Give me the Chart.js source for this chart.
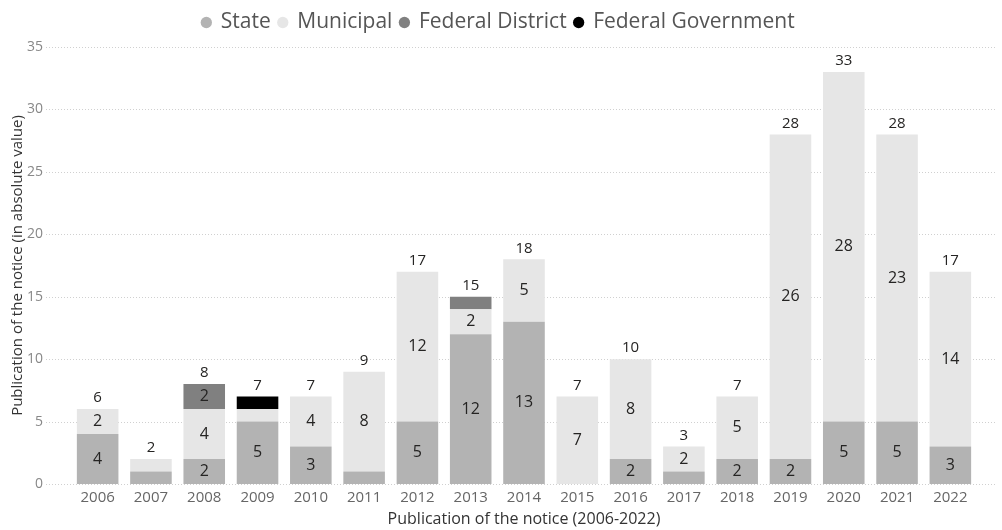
<!DOCTYPE html>
<html>
<head>
<meta charset="utf-8">
<script src="https://cdn.jsdelivr.net/npm/chart.js@4"></script>
<style>
  html, body { margin: 0; padding: 0; background: #fff; }
  #wrap { width: 1002px; height: 530px; }
</style>
</head>
<body>
<div id="wrap"><canvas id="chart" width="1002" height="530"></canvas></div>
<script>
const years = ["2006", "2007", "2008", "2009", "2010", "2011", "2012", "2013", "2014",
  "2015", "2016", "2017", "2018", "2019", "2020", "2021", "2022"];
const stateValues = [4, 1, 2, 5, 3, 1, 5, 12, 13, 0, 2, 1, 2, 2, 5, 5, 3];
const municipalValues = [2, 1, 4, 1, 4, 8, 12, 2, 5, 7, 8, 2, 5, 26, 28, 23, 14];
const federalDistrictValues = [0, 0, 2, 0, 0, 0, 0, 1, 0, 0, 0, 0, 0, 0, 0, 0, 0];
const federalGovValues = [0, 0, 0, 1, 0, 0, 0, 0, 0, 0, 0, 0, 0, 0, 0, 0, 0];
const yTicks = [0, 5, 10, 15, 20, 25, 30, 35];

const FONT = "'Open Sans', 'Noto Sans', sans-serif";

// dotted horizontal grid, wider than the bar area like the original
const gridPlugin = {
  id: "dottedGrid",
  afterLayout(chart) {
    // legend is centred on the whole page, not on the padded area
    if (chart.legend) {
      chart.legend.left += 10;
      chart.legend.right += 10;
      chart.legend.top -= 4;
      chart.legend.bottom -= 4;
    }
  },
  beforeDatasetsDraw(chart) {
    const { ctx, scales } = chart;
    ctx.save();
    ctx.strokeStyle = "#d0d0d0";
    ctx.lineWidth = 1;
    ctx.setLineDash([1, 2]);
    yTicks.forEach((t) => {
      const y = Math.round(scales.y.getPixelForValue(t)) + 0.5;
      ctx.beginPath();
      ctx.moveTo(46, y);
      ctx.lineTo(995, y);
      ctx.stroke();
    });
    ctx.restore();
  },
};

// segment labels and totals above each stack
const labelPlugin = {
  id: "barLabels",
  afterDatasetsDraw(chart) {
    const { ctx } = chart;
    ctx.save();
    ctx.fillStyle = "#252423";
    ctx.textAlign = "center";
    ctx.textBaseline = "middle";
    ctx.font = `16px ${FONT}`;
    chart.data.datasets.forEach((ds, di) => {
      const meta = chart.getDatasetMeta(di);
      meta.data.forEach((bar, i) => {
        const v = ds.data[i];
        if (v >= 2) {
          ctx.fillText(String(v), bar.x, (bar.y + bar.base) / 2);
        }
      });
    });
    ctx.font = `15px ${FONT}`;
    years.forEach((_, i) => {
      const total = stateValues[i] + municipalValues[i] + federalDistrictValues[i] + federalGovValues[i];
      const x = chart.getDatasetMeta(0).data[i].x;
      const y = chart.scales.y.getPixelForValue(total);
      ctx.fillText(String(total), x, y - 11);
    });
    ctx.restore();
  },
};

new Chart(document.getElementById("chart"), {
  type: "bar",
  data: {
    labels: years,
    datasets: [
      { label: "State", data: stateValues, backgroundColor: "#b3b3b3" },
      { label: "Municipal", data: municipalValues, backgroundColor: "#e6e6e6" },
      { label: "Federal District", data: federalDistrictValues, backgroundColor: "#808080" },
      { label: "Federal Government", data: federalGovValues, backgroundColor: "#000000" },
    ],
  },
  options: {
    responsive: false,
    animation: false,
    layout: { padding: { top: 8, left: 0, right: 25, bottom: 0 } },
    datasets: { bar: { categoryPercentage: 1, barPercentage: 0.78 } },
    plugins: {
      legend: {
        position: "top",
        labels: {
          usePointStyle: true,
          pointStyle: "circle",
          boxWidth: 8,
          boxHeight: 8,
          padding: 8,
          color: "#555",
          font: { family: FONT, size: 21 },
        },
      },
      tooltip: { enabled: false },
    },
    scales: {
      x: {
        stacked: true,
        grid: { display: false, drawTicks: false },
        border: { display: false },
        ticks: { color: "#666", padding: 5, font: { family: FONT, size: 15 } },
        title: {
          display: true,
          text: "Publication of the notice (2006-2022)",
          color: "#333",
          padding: { top: 0, bottom: 1 },
          font: { family: FONT, size: 16 },
        },
        afterFit: (s) => { s.height = 46; },
      },
      y: {
        stacked: true,
        min: 0,
        max: 35,
        grid: { display: false, drawTicks: false },
        border: { display: false },
        ticks: { stepSize: 5, color: "#888", padding: 28, font: { family: FONT, size: 14 } },
        title: {
          display: true,
          text: "Publication of the notice (in absolute value)",
          color: "#333",
          padding: { top: 9, bottom: 0 },
          font: { family: FONT, size: 15 },
        },
        afterFit: (s) => { s.width = 71; },
      },
    },
  },
  plugins: [gridPlugin, labelPlugin],
});
</script>
</body>
</html>
